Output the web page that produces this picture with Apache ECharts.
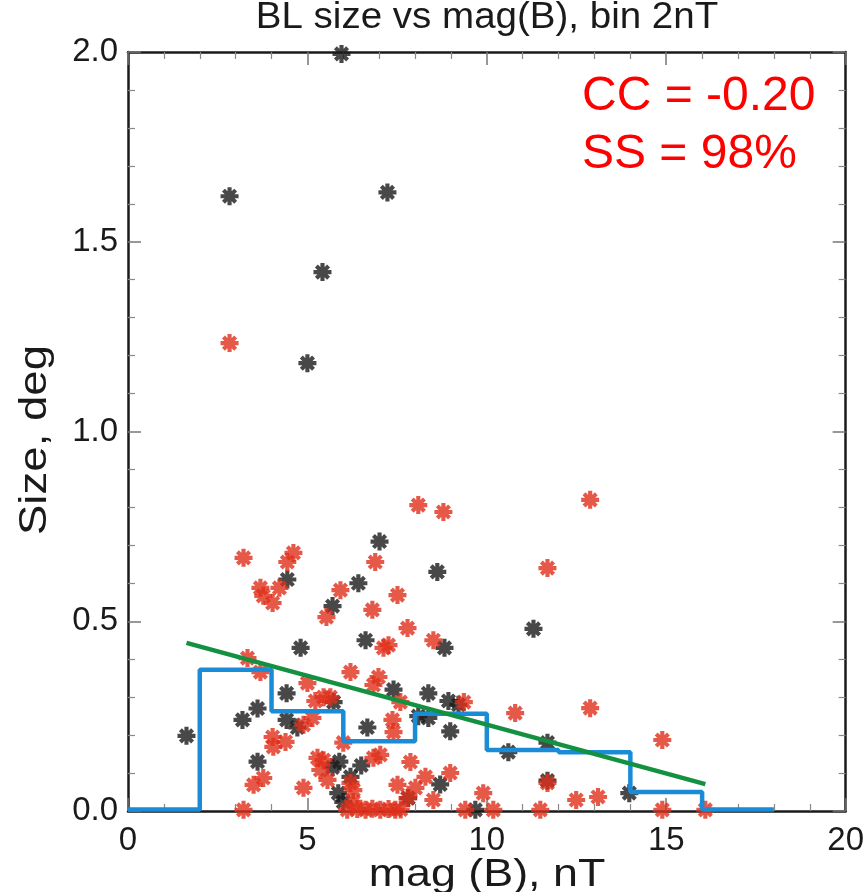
<!DOCTYPE html>
<html>
<head>
<meta charset="utf-8">
<script src="https://cdn.jsdelivr.net/npm/echarts@6/dist/echarts.min.js"></script>
<style>
html,body{margin:0;padding:0;background:#fff;}
#chart{width:867px;height:892px;}
</style>
</head>
<body>
<div id="chart"></div>
<script>
var titleText = 'BL size vs mag(B), bin 2nT';
var xName = 'mag (B), nT';
var yName = 'Size, deg';
var statLines = ['CC = -0.20', 'SS = 98%'];

var blackX = [1.63,2.83,7.23,5.95,5.42,5.0,3.19,3.61,3.61,4.42,4.42,4.72,4.44,4.81,5.70,6.42,7.01,8.62,6.62,8.82,7.40,8.37,8.93,9.21,8.09,8.37,8.98,6.67,5.89,6.50,5.70,6.20,5.86,6.0,8.70,7.81,11.30,10.60,11.69,11.69,9.68,13.97,5.73];
var blackY = [0.198,1.62,1.63,1.995,1.42,1.18,0.24,0.27,0.13,0.31,0.24,0.22,0.61,0.43,0.54,0.60,0.71,0.63,0.45,0.43,0.32,0.31,0.29,0.28,0.25,0.245,0.21,0.22,0.13,0.12,0.115,0.09,0.047,0.024,0.07,0.034,0.48,0.155,0.18,0.08,0.003,0.047,0.287];

var redX = [2.83,3.22,4.44,4.61,3.69,3.77,4.03,4.22,5.92,5.53,6.81,6.89,7.51,7.79,7.26,7.12,8.51,8.09,8.79,12.88,11.69,3.33,3.69,5.0,6.20,6.98,6.84,5.22,5.45,5.64,5.14,4.89,4.03,4.05,4.39,5.28,5.36,5.56,3.77,3.50,4.89,3.22,7.59,7.37,7.40,6.0,7.03,6.84,5.45,7.87,8.29,8.98,7.51,8.01,8.51,7.79,6.20,6.28,6.28,6.11,6.39,6.62,6.81,7.03,7.26,7.45,7.60,9.36,10.79,12.88,9.90,11.69,12.49,13.10,9.40,10.18,11.49,14.89,14.89,16.09];
var redY = [1.233,0.667,0.656,0.68,0.588,0.567,0.548,0.588,0.582,0.511,0.53,0.656,0.569,0.482,0.437,0.43,0.45,0.806,0.788,0.82,0.64,0.403,0.366,0.337,0.366,0.353,0.332,0.29,0.30,0.30,0.245,0.227,0.195,0.169,0.182,0.14,0.108,0.082,0.087,0.069,0.061,0.003,0.287,0.24,0.208,0.18,0.148,0.14,0.134,0.129,0.09,0.10,0.069,0.061,0.029,0.034,0.074,0.055,0.024,0.003,0.005,0.003,0.006,0.003,0.005,0.003,0.004,0.287,0.258,0.271,0.047,0.074,0.029,0.037,0.003,0.003,0.003,0.187,0.003,0.003];

var binEdges = [0,2,4,6,8,10,12,14,16,18];
var binVals = [0.004,0.372,0.263,0.184,0.256,0.161,0.155,0.05,0.004];

var fitX = [1.63,16.09];
var fitY = [0.443,0.071];

var xTicks = [0,5,10,15,20];
var yTicks = [0.0,0.5,1.0,1.5,2.0];

function zip(a,b){var r=[];for(var i=0;i<a.length;i++)r.push([a[i],b[i]]);return r;}
var histData=[];
for(var i=0;i<binVals.length;i++){histData.push([binEdges[i],binVals[i]]);histData.push([binEdges[i+1],binVals[i]]);}

var star = 'path://M7.7 0L12.3 0L12.3 20L7.7 20Z M0 7.7L20 7.7L20 12.3L0 12.3Z M4.84 1.59L18.41 15.16L15.16 18.41L1.59 4.84Z M18.41 4.84L4.84 18.41L1.59 15.16L15.16 1.59Z';

var FONT = '"Liberation Sans", Arial, sans-serif';
var chart = echarts.init(document.getElementById('chart'), null, {renderer:'canvas'});

function axisCommon(){
  return {
    axisLine:{show:true,onZero:false,lineStyle:{color:'#1a1a1a',width:2.5}},
    axisTick:{show:true,inside:true,length:13,lineStyle:{color:'#777',width:1.5}},
    minorTick:{show:true,splitNumber:5,length:7,lineStyle:{color:'#888',width:1.2}},
    splitLine:{show:false}
  };
}

var xa = Object.assign(axisCommon(),{type:'value',min:xTicks[0],max:xTicks[xTicks.length-1],interval:5,position:'bottom',
  axisLabel:{fontFamily:FONT,fontSize:33,color:'#1a1a1a',margin:13}});
var xa2 = Object.assign(axisCommon(),{type:'value',min:xTicks[0],max:xTicks[xTicks.length-1],interval:5,position:'top',axisLabel:{show:false}});
var ya = Object.assign(axisCommon(),{type:'value',min:yTicks[0],max:yTicks[yTicks.length-1],interval:0.5,position:'left',
  axisLabel:{fontFamily:FONT,fontSize:33,color:'#1a1a1a',margin:10,formatter:function(v){return v.toFixed(1);}}});
var ya2 = Object.assign(axisCommon(),{type:'value',min:yTicks[0],max:yTicks[yTicks.length-1],interval:0.5,position:'right',axisLabel:{show:false}});

chart.setOption({
  animation:false,
  backgroundColor:'#ffffff',
  grid:{left:128,right:21,top:52,bottom:81,containLabel:false},
  xAxis:[xa,xa2],
  yAxis:[ya,ya2],
  series:[
    {type:'scatter',data:zip(blackX,blackY),symbol:star,symbolSize:18,itemStyle:{color:'#1a1a1a'},z:2,clip:false},
    {type:'scatter',data:zip(redX,redY),symbol:star,symbolSize:18,itemStyle:{color:'#e0301c'},z:2,clip:false},
    {type:'line',data:histData,showSymbol:false,symbol:'none',lineStyle:{color:'#1a8bd6',width:4.5},z:3},
    {type:'line',data:zip(fitX,fitY),showSymbol:false,symbol:'none',lineStyle:{color:'#139140',width:4.5},z:4}
  ],
  graphic:[
    {type:'text',x:487,y:18,scaleX:1.07,style:{text:titleText,fontFamily:FONT,fontSize:36,fill:'#1a1a1a',align:'center',verticalAlign:'middle'}},
    {type:'text',x:487,y:876,scaleX:1.18,style:{text:xName,fontFamily:FONT,fontSize:38,fill:'#1a1a1a',align:'center',verticalAlign:'middle'}},
    {type:'text',x:36,y:440,rotation:Math.PI/2,scaleX:1.2,style:{text:yName,fontFamily:FONT,fontSize:38,fill:'#1a1a1a',align:'center',verticalAlign:'middle'}},
    {type:'text',left:582,top:73,style:{text:statLines[0],fontFamily:FONT,fontSize:48,fill:'#ff0000'}},
    {type:'text',left:582,top:131,style:{text:statLines[1],fontFamily:FONT,fontSize:48,fill:'#ff0000'}}
  ]
});
</script>
</body>
</html>
